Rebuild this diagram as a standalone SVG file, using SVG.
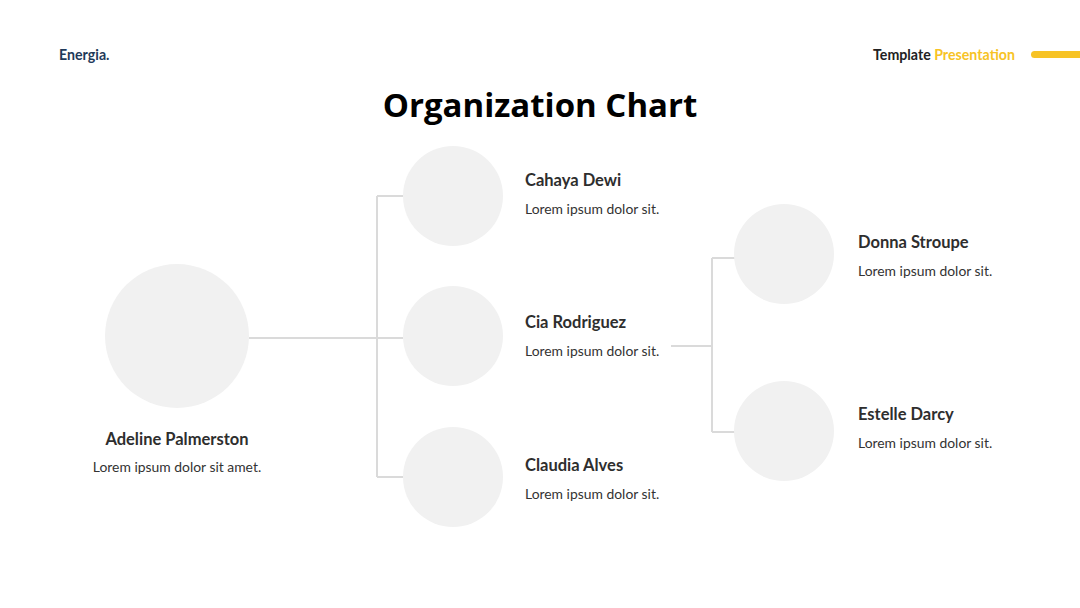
<svg xmlns="http://www.w3.org/2000/svg" width="1080" height="608" viewBox="0 0 1080 608">
<style>
.bg{fill:#ffffff}
.node{fill:#f1f1f1}
.conn{stroke:#dadada;stroke-width:2;fill:none}
.name{font-family:Lato,"Open Sans","Liberation Sans",sans-serif;font-weight:700;font-size:16.5px;fill:#2e2e2e}
.desc{font-family:Lato,"Open Sans","Liberation Sans",sans-serif;font-size:13.9px;fill:#333333}
.hdr{font-family:Lato,"Open Sans","Liberation Sans",sans-serif;font-weight:700;font-size:14.2px}
.title{font-family:"Open Sans","Noto Sans","Liberation Sans",sans-serif;font-weight:700;font-size:33px;fill:#000000}
</style>
<rect class="bg" x="0" y="0" width="1080" height="608"/>
<g id="header">
<text class="hdr" x="59" y="60" fill="#1f3a5a">Energia.</text>
<text class="hdr" x="873" y="60" fill="#222222">Template <tspan fill="#f7c325">Presentation</tspan></text>
<rect x="1031" y="51" width="60" height="7" rx="3.5" fill="#f7c325"/>
</g>
<text class="title" x="540" y="117" text-anchor="middle">Organization Chart</text>
<g id="connectors">
<path class="conn" d="M249 338 H403 M377 196 V477 M377 196 H403 M377 477 H403"/>
<path class="conn" d="M671 346 H712 M712 258 V432 M712 258 H735 M712 432 H735"/>
</g>
<g id="adeline">
<circle class="node" cx="177" cy="336" r="72"/>
<text class="name" x="177" y="445" text-anchor="middle">Adeline Palmerston</text>
<text class="desc" x="177" y="472" text-anchor="middle">Lorem ipsum dolor sit amet.</text>
</g>
<g id="cahaya">
<circle class="node" cx="453" cy="196" r="50"/>
<text class="name" x="525" y="186">Cahaya Dewi</text>
<text class="desc" x="525" y="214">Lorem ipsum dolor sit.</text>
</g>
<g id="cia">
<circle class="node" cx="453" cy="336" r="50"/>
<text class="name" x="525" y="328">Cia Rodriguez</text>
<text class="desc" x="525" y="356">Lorem ipsum dolor sit.</text>
</g>
<g id="claudia">
<circle class="node" cx="453" cy="477" r="50"/>
<text class="name" x="525" y="471">Claudia Alves</text>
<text class="desc" x="525" y="499">Lorem ipsum dolor sit.</text>
</g>
<g id="donna">
<circle class="node" cx="784" cy="254" r="50"/>
<text class="name" x="858" y="248">Donna Stroupe</text>
<text class="desc" x="858" y="276">Lorem ipsum dolor sit.</text>
</g>
<g id="estelle">
<circle class="node" cx="784" cy="431" r="50"/>
<text class="name" x="858" y="420">Estelle Darcy</text>
<text class="desc" x="858" y="448">Lorem ipsum dolor sit.</text>
</g>
</svg>
